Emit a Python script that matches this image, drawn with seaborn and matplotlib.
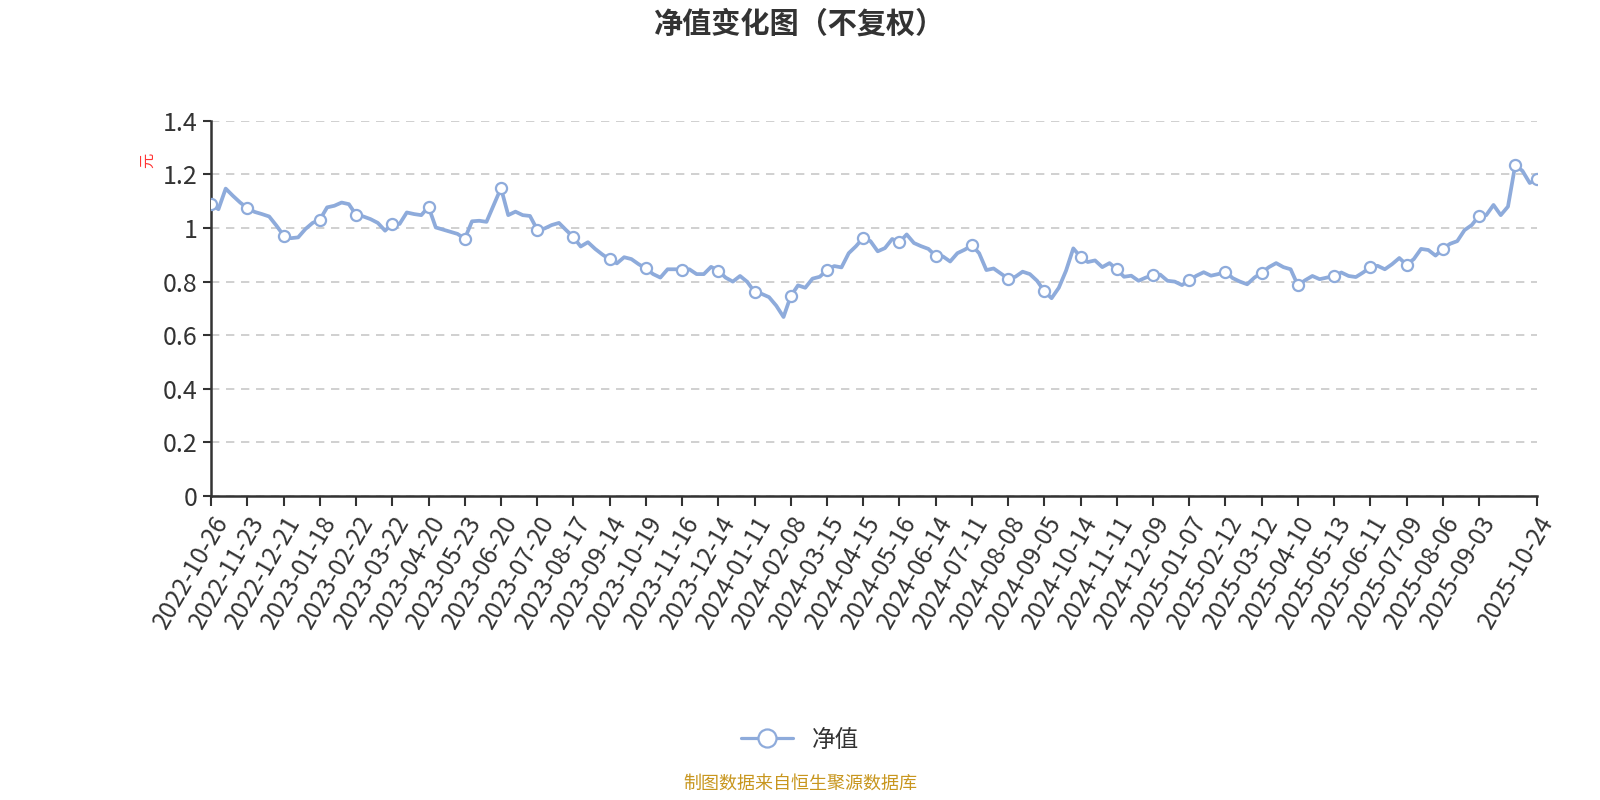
import numpy as np
import seaborn as sns
import matplotlib.pyplot as plt
from matplotlib.lines import Line2D

# 净值, read every 4 trading days (index 0..732)
nav = [
    1.089, 1.070, 1.147, 1.120, 1.095, 1.074, 1.060, 1.052, 1.043, 1.009,
    0.972, 0.962, 0.965, 0.996, 1.019, 1.031, 1.077, 1.083, 1.095, 1.089,
    1.049, 1.043, 1.033, 1.019, 0.990, 1.016, 1.015, 1.058, 1.052, 1.048,
    1.079, 1.002, 0.994, 0.986, 0.978, 0.960, 1.025, 1.027, 1.023, 1.086,
    1.149, 1.048, 1.061, 1.048, 1.045, 0.994, 0.998, 1.011, 1.019, 0.992,
    0.966, 0.931, 0.947, 0.922, 0.901, 0.883, 0.868, 0.891, 0.884, 0.865,
    0.849, 0.828, 0.815, 0.846, 0.846, 0.845, 0.846, 0.828, 0.828, 0.855,
    0.841, 0.815, 0.800, 0.821, 0.799, 0.761, 0.754, 0.742, 0.710, 0.668,
    0.746, 0.786, 0.777, 0.811, 0.818, 0.843, 0.858, 0.853, 0.906, 0.932,
    0.963, 0.951, 0.913, 0.925, 0.959, 0.947, 0.976, 0.944, 0.932, 0.922,
    0.896, 0.894, 0.875, 0.906, 0.919, 0.935, 0.906, 0.843, 0.849, 0.830,
    0.811, 0.818, 0.837, 0.828, 0.803, 0.764, 0.738, 0.777, 0.841, 0.924,
    0.892, 0.873, 0.879, 0.854, 0.869, 0.846, 0.818, 0.822, 0.803, 0.815,
    0.823, 0.826, 0.803, 0.800, 0.787, 0.805, 0.822, 0.835, 0.822, 0.828,
    0.837, 0.813, 0.800, 0.790, 0.815, 0.833, 0.854, 0.869, 0.854, 0.846,
    0.786, 0.805, 0.821, 0.809, 0.815, 0.821, 0.834, 0.821, 0.817, 0.834,
    0.854, 0.859, 0.846, 0.865, 0.888, 0.863, 0.884, 0.922, 0.918, 0.897,
    0.922, 0.941, 0.951, 0.992, 1.011, 1.045, 1.048, 1.086, 1.048, 1.080,
    1.235, 1.213, 1.168, 1.181,
]
step = 4
tick_every = 20
date_labels = [
    '2022-10-26', '2022-11-23', '2022-12-21', '2023-01-18', '2023-02-22',
    '2023-03-22', '2023-04-20', '2023-05-23', '2023-06-20', '2023-07-20',
    '2023-08-17', '2023-09-14', '2023-10-19', '2023-11-16', '2023-12-14',
    '2024-01-11', '2024-02-08', '2024-03-15', '2024-04-15', '2024-05-16',
    '2024-06-14', '2024-07-11', '2024-08-08', '2024-09-05', '2024-10-14',
    '2024-11-11', '2024-12-09', '2025-01-07', '2025-02-12', '2025-03-12',
    '2025-04-10', '2025-05-13', '2025-06-11', '2025-07-09', '2025-08-06',
    '2025-09-03', '2025-10-24',
]

sns.set_theme(style='white')
plt.rcParams['font.family'] = ['Noto Sans CJK SC', 'DejaVu Sans']
plt.rcParams['axes.unicode_minus'] = False

line_color = '#8EABDB'
text_color = '#333333'

x = np.arange(len(nav)) * step
last = x[-1]

fig = plt.figure(figsize=(16, 8), dpi=100)
ax = fig.add_axes([0.132, 0.380, 0.8286, 0.469])

sns.lineplot(x=x, y=nav, ax=ax, color=line_color, linewidth=2.7, zorder=3)

# markers every 20 trading days plus the last point
mk = list(range(0, len(nav), tick_every // step))
if mk[-1] != len(nav) - 1:
    mk.append(len(nav) - 1)
ax.plot(x[mk], np.array(nav)[mk], linestyle='none', marker='o', markersize=8,
        markerfacecolor='white', markeredgecolor=line_color, markeredgewidth=1.6,
        zorder=4)

ax.set_xlim(0, last)
ax.set_ylim(0, 1.4)
ax.set_yticks(np.arange(0, 1.41, 0.2))
ax.set_yticklabels(['0', '0.2', '0.4', '0.6', '0.8', '1', '1.2', '1.4'])
ax.yaxis.grid(True, linestyle=(0, (5, 4)), color='#c8c8c8', linewidth=1.2)
ax.xaxis.grid(False)

ticks = list(range(0, last - tick_every + 1, tick_every))
labels = date_labels[:-1] + [''] * (len(ticks) - len(date_labels) + 1)
ticks.append(last)
labels.append(date_labels[-1])
ax.set_xticks(ticks)
ax.set_xticklabels(labels, rotation=60, ha='right', va='top',
                   rotation_mode='anchor')

ax.tick_params(axis='x', length=7, width=1.5, color=text_color,
               labelsize=17.5, labelcolor=text_color, pad=4)
ax.tick_params(axis='y', length=6, width=1.5, color=text_color,
               labelsize=18, labelcolor=text_color, pad=4)
ax.tick_params(bottom=True, left=True)

for side in ['top', 'right']:
    ax.spines[side].set_visible(False)
for side in ['left', 'bottom']:
    ax.spines[side].set_color(text_color)
    ax.spines[side].set_linewidth(1.8)

ax.set_xlabel('')
ax.set_ylabel('')

fig.text(0.5, 0.971, '净值变化图（不复权）', ha='center', va='center',
         fontsize=21, fontweight='bold', color=text_color)
fig.text(0.0925, 0.80, '元', ha='center', va='center', rotation=90,
         fontsize=11, color='#ff3333')

handle = Line2D([], [], color=line_color, linewidth=2.3, marker='o',
                markersize=13, markerfacecolor='white',
                markeredgecolor=line_color, markeredgewidth=1.6)
fig.legend([handle], ['净值'], loc='center', bbox_to_anchor=(0.5, 0.075),
           frameon=False, fontsize=17, handlelength=2.2,
           labelcolor=text_color)

fig.text(0.5, 0.009, '制图数据来自恒生聚源数据库', ha='center', va='bottom',
         fontsize=13, color='#C8961E')

fig.savefig('out.png', dpi=100)
